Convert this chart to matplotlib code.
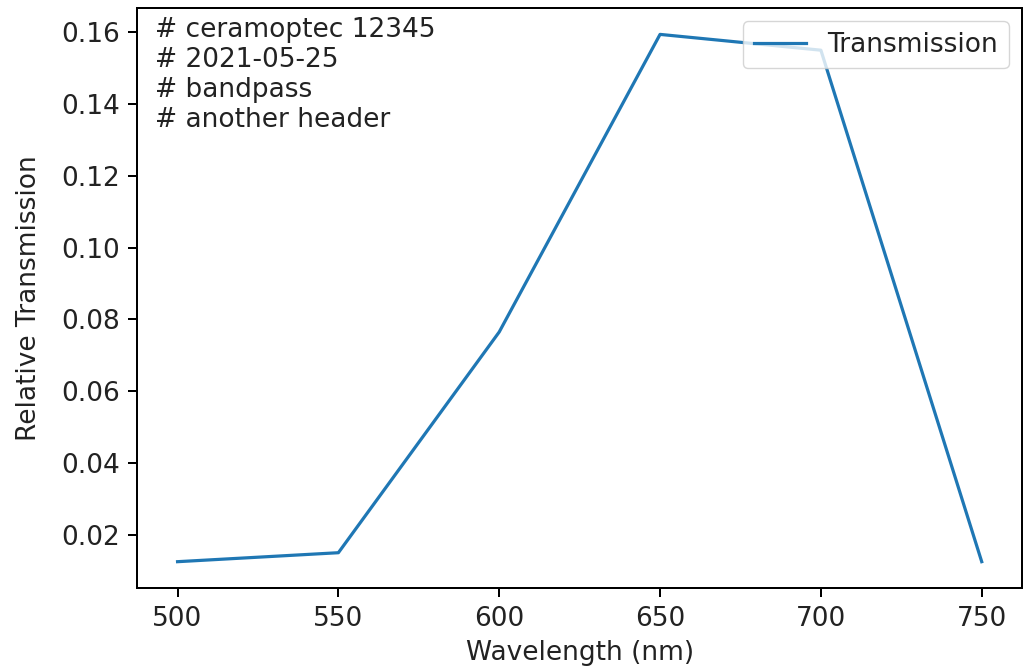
import matplotlib
matplotlib.use('agg')
import matplotlib.pyplot as plt

# filter transmission curve
wavelength = [500, 550, 600, 650, 700, 750]
transmission = [0.0125, 0.0150, 0.0765, 0.1594, 0.1550, 0.0125]
header = ['# ceramoptec 12345', '# 2021-05-25', '# bandpass', '# another header']

scale = 1.9
plt.rcParams['font.size'] = 10 * scale
plt.rcParams['text.color'] = '#222222'
plt.rcParams['axes.labelcolor'] = '#222222'
plt.rcParams['xtick.labelcolor'] = '#222222'
plt.rcParams['ytick.labelcolor'] = '#222222'
plt.rcParams['axes.linewidth'] = 0.8 * 1.8
plt.rcParams['xtick.major.size'] = 3.5 * 1.8
plt.rcParams['ytick.major.size'] = 3.5 * 1.8
plt.rcParams['xtick.major.width'] = 0.8 * 1.8
plt.rcParams['ytick.major.width'] = 0.8 * 1.8
plt.rcParams['xtick.major.pad'] = 3.5 * 1.8
plt.rcParams['ytick.major.pad'] = 3.5 * 1.8

fig = plt.figure(figsize=(10.25, 6.69), dpi=100)
ax = fig.add_axes([0.134, 0.121, 0.863, 0.867])
ax.plot(wavelength, transmission, color='#1f77b4', lw=2.3, label='Transmission')
ax.set_xlabel('Wavelength (nm)', labelpad=6)
ax.set_ylabel('Relative Transmission', labelpad=14)
ax.text(0.02, 0.985, '\n'.join(header), transform=ax.transAxes, va='top', ha='left')
ax.legend(loc='upper right')

fig.savefig('out.png', dpi=100)
